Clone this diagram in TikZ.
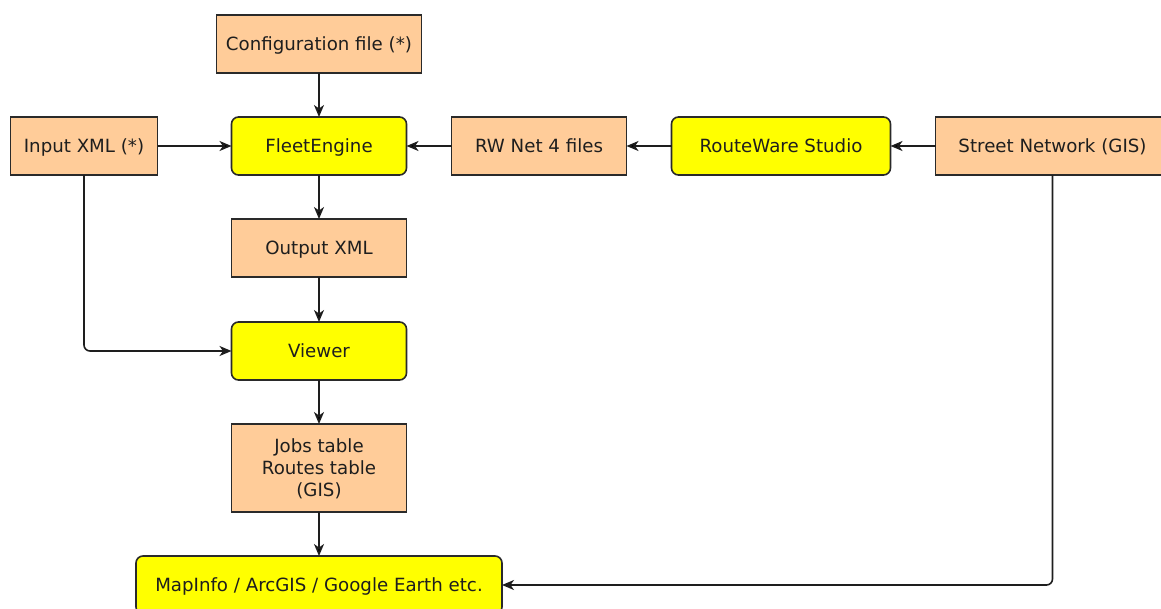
\documentclass[tikz,border=0pt]{standalone}
\usepackage{fontspec}
\setmainfont{DejaVu Sans}
\usetikzlibrary{positioning,arrows.meta}

\definecolor{peach}{HTML}{FFCC99}
\definecolor{toolfill}{RGB}{255,255,0}
\definecolor{boxline}{HTML}{2A2A2A}
\definecolor{txt}{HTML}{1E1E1E}

\begin{document}
\begin{tikzpicture}[x=1pt,y=-1pt,
        -{Stealth[length=12pt,width=10pt,inset=3.5pt]},line width=1.6pt,
        data node/.style={rectangle, draw=boxline, fill=peach, text=txt,
        inner sep=0pt, outer sep=0pt, minimum width=175pt, minimum height=58pt,
        text height=17.5pt, text depth=4pt,
        align=center, font=\fontsize{18.2}{22}\selectfont},
        tool node/.style={data node, fill=toolfill, rounded corners=7pt}
        ]

        \useasboundingbox (0,0) rectangle (1161,608);

        \node [data node, minimum width=205pt] (conf) at (319,44) {Configuration file (*)} ;
        \node [tool node] (fleet) [below = 44pt of conf] {FleetEngine} ;
        \node [data node, minimum width=147pt] (inxml) [left = 74pt of fleet] {Input XML (*)} ;
        \node [data node] (rwnet) [right = 45pt of fleet] {RW Net 4 files} ;
        \node [tool node, minimum width=219pt] (studio) [right = 45pt of rwnet] {RouteWare Studio} ;
        \node [data node, minimum width=234pt] (street) [right = 45pt of studio] {Street Network (GIS)} ;
        \node [data node] (outxml) [below = 44pt of fleet] {Output XML} ;
        \node [tool node] (viewer) [below = 45pt of outxml] {Viewer} ;
        \node [data node, minimum height=88pt, text height=61pt, text depth=4pt] (tables) [below = 44pt of viewer] {Jobs table\\Routes table\\(GIS)} ;
        \node [tool node, minimum width=366pt] (gis) [below = 44pt of tables] {MapInfo / ArcGIS / Google Earth etc.} ;

        \path[draw=txt]
        (conf) edge (fleet)
        (inxml) edge (fleet)
        (rwnet) edge (fleet)
        (studio) edge (rwnet)
        (street) edge (studio)
        (fleet) edge (outxml)
        (outxml) edge (viewer)
        (viewer) edge (tables)
        (tables) edge (gis)
        ;

        \draw[draw=txt, rounded corners=6pt] (inxml) |- (viewer) ;
        \draw[draw=txt, rounded corners=6pt] (street) |- (gis) ;
     \end{tikzpicture}
\end{document}
